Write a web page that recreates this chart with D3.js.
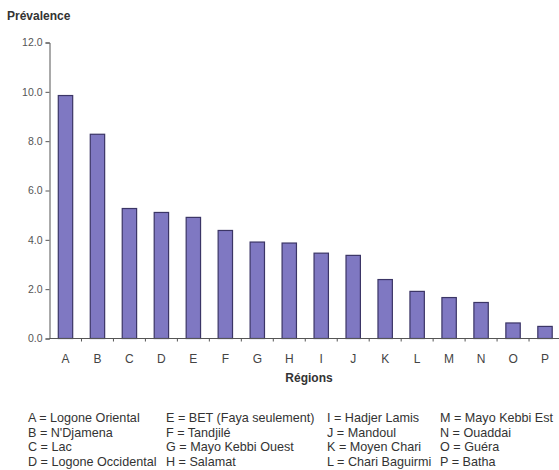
<!DOCTYPE html>
<html>
<head>
<meta charset="utf-8">
<script src="https://cdn.jsdelivr.net/npm/d3@7"></script>
<style>
  body { margin: 0; background: #fff; }
  svg { font-family: "Liberation Sans", Arial, sans-serif; }
</style>
</head>
<body>
<svg id="chart" width="559" height="470"></svg>
<script>
// Prévalence par région
const regions = ["A", "B", "C", "D", "E", "F", "G", "H", "I", "J", "K", "L", "M", "N", "O", "P"];
const prevalence = [9.85, 8.28, 5.27, 5.11, 4.91, 4.38, 3.91, 3.87, 3.46, 3.37, 2.39, 1.91, 1.66, 1.46, 0.63, 0.49];
const yTicks = [0, 2, 4, 6, 8, 10, 12];

const legendCols = [
  ["A = Logone Oriental", "B = N'Djamena", "C = Lac", "D = Logone Occidental"],
  ["E = BET (Faya seulement)", "F = Tandjilé", "G = Mayo Kebbi Ouest", "H = Salamat"],
  ["I = Hadjer Lamis", "J = Mandoul", "K = Moyen Chari", "L = Chari Baguirmi"],
  ["M = Mayo Kebbi Est", "N = Ouaddai", "O = Guéra", "P = Batha"]
];

const svg = d3.select("#chart");

const plotLeft = 49.5;
const plotRight = 561;
const plotTop = 42.5;
const plotBottom = 338.5;

const x = d3.scaleBand()
  .domain(regions)
  .range([plotLeft, plotRight])
  .paddingInner(0.55)
  .paddingOuter(0.275);

const y = d3.scaleLinear()
  .domain([0, 12])
  .range([plotBottom, plotTop]);

// Bars
svg.append("g")
  .selectAll("rect")
  .data(regions)
  .join("rect")
  .attr("x", d => x(d))
  .attr("y", (d, i) => y(prevalence[i]))
  .attr("width", x.bandwidth())
  .attr("height", (d, i) => plotBottom - y(prevalence[i]))
  .attr("fill", "#7f78c2")
  .attr("stroke", "#3b3566")
  .attr("stroke-width", 1.2);

// Y axis
const yAxis = svg.append("g")
  .attr("transform", `translate(${plotLeft},0)`)
  .call(d3.axisLeft(y).tickValues(yTicks).tickFormat(d3.format(".1f")).tickSize(4).tickPadding(3));
yAxis.select(".domain").attr("stroke", "#555");
yAxis.selectAll(".tick line").attr("stroke", "#555");
yAxis.selectAll("text").attr("fill", "#555").attr("font-size", "10.5px");

// X axis (ticks between categories)
const xAxis = svg.append("g")
  .attr("transform", `translate(0,${plotBottom})`);
xAxis.append("line")
  .attr("x1", plotLeft).attr("x2", 559)
  .attr("stroke", "#555");
const step = x.step();
xAxis.selectAll("line.sep")
  .data(regions.slice(1))
  .join("line")
  .attr("class", "sep")
  .attr("x1", d => x(d) - x.paddingInner() * step / 2)
  .attr("x2", d => x(d) - x.paddingInner() * step / 2)
  .attr("y1", 0).attr("y2", 3)
  .attr("stroke", "#555");
xAxis.selectAll("text")
  .data(regions)
  .join("text")
  .attr("x", d => x(d) + x.bandwidth() / 2)
  .attr("y", 24)
  .attr("text-anchor", "middle")
  .attr("font-size", "12px")
  .attr("fill", "#444")
  .text(d => d);

// Titles
svg.append("text")
  .attr("x", 7).attr("y", 19.5)
  .attr("font-size", "12px")
  .attr("font-weight", "bold")
  .attr("fill", "#333")
  .text("Prévalence");

svg.append("text")
  .attr("x", 309).attr("y", 381.5)
  .attr("text-anchor", "middle")
  .attr("font-size", "12px")
  .attr("font-weight", "bold")
  .attr("fill", "#333")
  .text("Régions");

// Legend
const colX = [28, 166, 327, 440];
const legend = svg.append("g");
legendCols.forEach((col, c) => {
  legend.selectAll(null)
    .data(col)
    .join("text")
    .attr("x", colX[c])
    .attr("y", (d, r) => 422 + r * 14.6)
    .attr("font-size", "12.6px")
    .attr("fill", "#333")
    .text(d => d);
});
</script>
</body>
</html>
